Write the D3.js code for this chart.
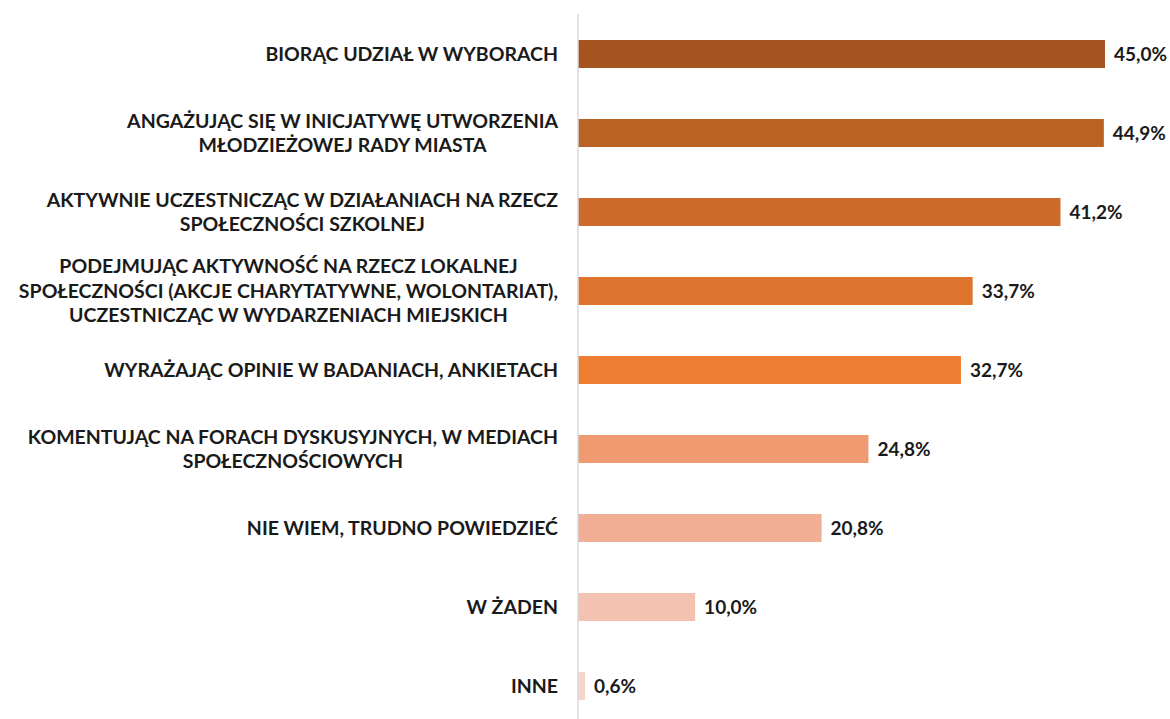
<!DOCTYPE html>
<html>
<head>
<meta charset="utf-8">
<script src="https://d3js.org/d3.v7.min.js"></script>
<style>
  body { margin: 0; background: #fff; }
  text { font-family: Lato, sans-serif; font-weight: bold; fill: #1a1a1a; }
</style>
</head>
<body>
<script>
// categories, top to bottom (line breaks as in the original)
var categories = [
    "BIORĄC UDZIAŁ W WYBORACH",
    "ANGAŻUJĄC SIĘ W INICJATYWĘ UTWORZENIA\nMŁODZIEŻOWEJ RADY MIASTA",
    "AKTYWNIE UCZESTNICZĄC W DZIAŁANIACH NA RZECZ\nSPOŁECZNOŚCI SZKOLNEJ",
    "PODEJMUJĄC AKTYWNOŚĆ NA RZECZ LOKALNEJ\nSPOŁECZNOŚCI (AKCJE CHARYTATYWNE, WOLONTARIAT),\nUCZESTNICZĄC W WYDARZENIACH MIEJSKICH",
    "WYRAŻAJĄC OPINIE W BADANIACH, ANKIETACH",
    "KOMENTUJĄC NA FORACH DYSKUSYJNYCH, W MEDIACH\nSPOŁECZNOŚCIOWYCH",
    "NIE WIEM, TRUDNO POWIEDZIEĆ",
    "W ŻADEN",
    "INNE"
];
var values = [45.0, 44.9, 41.2, 33.7, 32.7, 24.8, 20.8, 10.0, 0.6];
var barColors = ["#a5541f", "#ba6124", "#cc6a2a", "#de742d", "#ed7d31",
                 "#f09a72", "#f2ae95", "#f4c2b0", "#f6d5ca"];

var width = 1170, height = 719;
var axisX = 578;

var svg = d3.select("body").append("svg")
    .attr("width", width)
    .attr("height", height);

var x = d3.scaleLinear().domain([0, 45]).range([axisX, 1105]);
var y = d3.scaleBand()
    .domain(categories)
    .range([14.5, 725.5])
    .paddingInner(0.646)
    .paddingOuter(0.323);

// bars
svg.selectAll("rect.bar")
    .data(values)
    .enter()
    .append("rect")
    .attr("class", "bar")
    .attr("x", x(0))
    .attr("y", function (d, i) { return y(categories[i]); })
    .attr("width", function (d) { return x(d) - x(0); })
    .attr("height", y.bandwidth())
    .style("fill", function (d, i) { return barColors[i]; });

// vertical axis line
svg.append("line")
    .attr("x1", axisX).attr("x2", axisX)
    .attr("y1", 14).attr("y2", height)
    .style("stroke", "#d9d9d9")
    .style("stroke-width", 1.5);

// value labels
svg.selectAll("text.val")
    .data(values)
    .enter()
    .append("text")
    .attr("class", "val")
    .attr("x", function (d) { return x(d) + 9; })
    .attr("y", function (d, i) { return y(categories[i]) + y.bandwidth() / 2; })
    .attr("dy", "0.35em")
    .style("font-size", "19px")
    .text(function (d) { return d.toFixed(1).replace(".", ",") + "%"; });

// category labels: lines centred, block right aligned next to the axis
var lineH = 24.5;
categories.forEach(function (c) {
    var lines = c.split("\n");
    var cy = y(c) + y.bandwidth() / 2;
    var g = svg.append("g");
    var t = g.selectAll("text")
        .data(lines)
        .enter()
        .append("text")
        .attr("y", function (d, i) { return cy + (i - (lines.length - 1) / 2) * lineH; })
        .attr("dy", "0.35em")
        .attr("text-anchor", "middle")
        .style("font-size", "19.5px")
        .text(function (d) { return d; });
    var maxW = 0;
    t.each(function () { maxW = Math.max(maxW, this.getComputedTextLength()); });
    t.attr("x", 558 - maxW / 2);
});
</script>
</body>
</html>
